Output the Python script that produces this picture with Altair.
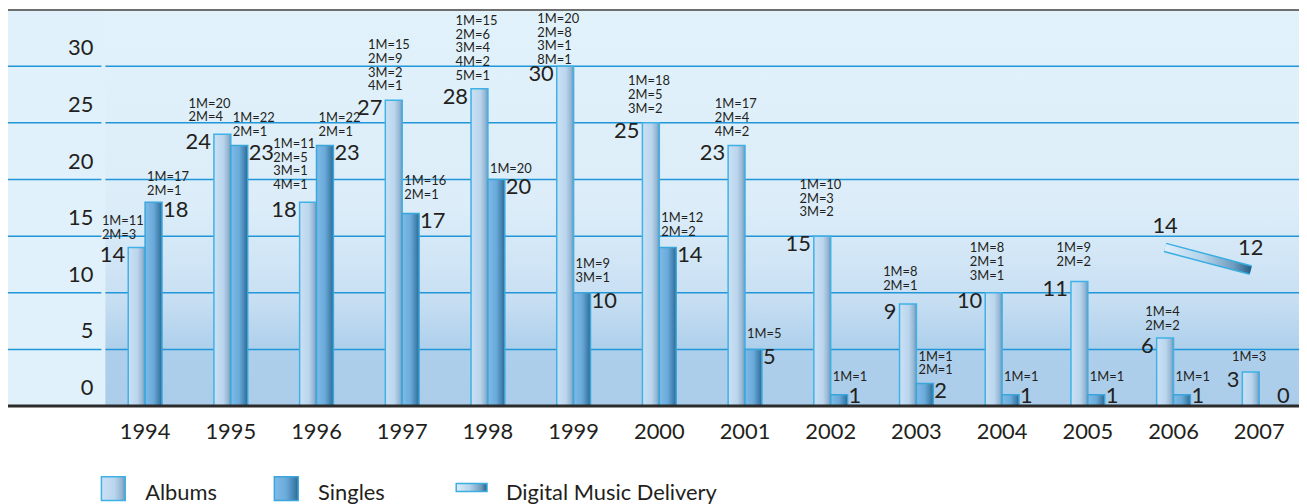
import altair as alt
import pandas as pd

# ---------------- data ----------------
years = [str(y) for y in range(1994, 2008)]
albums = [14, 24, 18, 27, 28, 30, 25, 23, 15, 9, 10, 11, 6, 3]
singles = [18, 23, 23, 17, 20, 10, 14, 5, 1, 2, 1, 1, 1, 0]
album_notes = [
    "1M=11\n2M=3",
    "1M=20\n2M=4",
    "1M=11\n2M=5\n3M=1\n4M=1",
    "1M=15\n2M=9\n3M=2\n4M=1",
    "1M=15\n2M=6\n3M=4\n4M=2\n5M=1",
    "1M=20\n2M=8\n3M=1\n8M=1",
    "1M=18\n2M=5\n3M=2",
    "1M=17\n2M=4\n4M=2",
    "1M=10\n2M=3\n3M=2",
    "1M=8\n2M=1",
    "1M=8\n2M=1\n3M=1",
    "1M=9\n2M=2",
    "1M=4\n2M=2",
    "1M=3",
]
single_notes = [
    "1M=17\n2M=1",
    "1M=22\n2M=1",
    "1M=22\n2M=1",
    "1M=16\n2M=1",
    "1M=20",
    "1M=9\n3M=1",
    "1M=12\n2M=2",
    "1M=5",
    "1M=1",
    "1M=1\n2M=1",
    "1M=1",
    "1M=1",
    "1M=1",
    "",
]
digital_years = ["2006", "2007"]
digital_values = [14, 12]
y_ticks = [0, 5, 10, 15, 20, 25, 30]
legend_labels = ["Albums", "Singles", "Digital Music Delivery"]

# label nudges (pixels) for the annotations
album_note_dx = [-35, -34, -35, -26, -24, -28, -23, -22, -23, -25, -24, -23, -20, -19]
album_note_dy = [-6, -10, -10, -7, -6, 1, -7, -7, -17, -11, -10, -13, -5, -8]
single_note_dy = [-4, -7, -7, -12, -4, -8, -9, -8, -11, -6, -11, -11, -11, 0]

# ---------------- styling ----------------
W, H = 1299, 399
FONT = "Lato"
TXT = "#231f20"
GRID = "#2196d8"
LH = 13.8

album_fill = alt.Gradient(
    gradient="linear",
    stops=[alt.GradientStop(color="#cbe1f4", offset=0),
           alt.GradientStop(color="#bad5ed", offset=0.55),
           alt.GradientStop(color="#93b5d2", offset=0.85),
           alt.GradientStop(color="#6f93b3", offset=1)],
    x1=0, x2=1, y1=0, y2=0)
single_fill = alt.Gradient(
    gradient="linear",
    stops=[alt.GradientStop(color="#7ebbe7", offset=0),
           alt.GradientStop(color="#6aaada", offset=0.5),
           alt.GradientStop(color="#407fab", offset=0.85),
           alt.GradientStop(color="#2a6690", offset=1)],
    x1=0, x2=1, y1=0, y2=0)
digital_fill = alt.Gradient(
    gradient="linear",
    stops=[alt.GradientStop(color="#ddeefa", offset=0),
           alt.GradientStop(color="#b4d2ea", offset=0.45),
           alt.GradientStop(color="#6f9cbf", offset=0.8),
           alt.GradientStop(color="#255f87", offset=1)],
    x1=0, x2=1, y1=0, y2=0)
bg_fill = alt.Gradient(
    gradient="linear",
    stops=[alt.GradientStop(color="#e1f2fb", offset=0),
           alt.GradientStop(color="#dcedf9", offset=0.5),
           alt.GradientStop(color="#c9e0f3", offset=0.72),
           alt.GradientStop(color="#adcfeb", offset=0.86),
           alt.GradientStop(color="#abcdea", offset=1)],
    x1=0, x2=0, y1=0, y2=1)

n = len(years)
bars_df = pd.DataFrame({
    "year": years * 2,
    "series": ["Albums"] * n + ["Singles"] * n,
    "value": albums + singles,
    "note": album_notes + single_notes,
    "ndx": album_note_dx + [-6.5] * n,
    "ndy": album_note_dy + single_note_dy,
})
dig_df = pd.DataFrame({"year": digital_years, "value": digital_values})
tick_df = pd.DataFrame({"tick": y_ticks})
one = pd.DataFrame({"a": [0]})

yscale = alt.Scale(domain=[0, 35], nice=False, zero=True)
xscale = alt.Scale(domain=years, paddingInner=0.606, paddingOuter=0.835,
                   align=0.84, round=False)
oscale = alt.Scale(domain=["Albums", "Singles"], paddingInner=0, paddingOuter=0,
                   round=False)

XAXIS = alt.Axis(domain=False, ticks=False, grid=False, labelAngle=0,
                 labelFont=FONT, labelFontSize=22, labelColor=TXT,
                 labelPadding=16)
X = alt.X("year:N", scale=xscale, title=None, axis=XAXIS)
XO = alt.XOffset("series:N", scale=oscale)
XD = alt.X("year:N", scale=xscale, title=None, axis=XAXIS, bandPosition=0.25)


def Y(field):
    return alt.Y(field, scale=yscale, axis=None, title=None)


# background
bg = alt.Chart(one).mark_rect(fill=bg_fill).encode(
    x=alt.value(98), x2=alt.value(W), y=alt.value(0), y2=alt.value(H))

grid_left = alt.Chart(tick_df).mark_rule(color=GRID, strokeWidth=1.5).encode(
    y=Y("tick:Q"), x=alt.value(0), x2=alt.value(94))
grid_right = alt.Chart(tick_df).mark_rule(color=GRID, strokeWidth=1.5).encode(
    y=Y("tick:Q"), x=alt.value(98), x2=alt.value(W))
y_labels = alt.Chart(tick_df).mark_text(
    font=FONT, fontSize=22, color=TXT, align="right", baseline="middle", dy=-18).encode(
    y=Y("tick:Q"), x=alt.value(86), text="tick:Q")

top_line = alt.Chart(one).mark_rule(color="#6e6e6e", strokeWidth=2).encode(
    y=alt.value(0.5), x=alt.value(0), x2=alt.value(W))

album_bars = alt.Chart(bars_df).transform_filter(
    alt.datum.series == "Albums").mark_bar(
    fill=album_fill, stroke="#3fb1e6", strokeWidth=1.5).encode(
    x=X, xOffset=XO, y=Y("value:Q"))
single_bars = alt.Chart(bars_df).transform_filter(
    alt.datum.series == "Singles").mark_bar(
    fill=single_fill, stroke="#3aa6dc", strokeWidth=1.5).encode(
    x=X, xOffset=XO, y=Y("value:Q"))

baseline = alt.Chart(one).mark_rule(color="#2b2b2b", strokeWidth=3).encode(
    y=alt.YDatum(0, scale=yscale, axis=None), x=alt.value(0), x2=alt.value(W))

# value labels
album_vals = alt.Chart(bars_df).transform_filter(
    alt.datum.series == "Albums").transform_calculate(
    ly="max(datum.value, 1.6)").mark_text(
    font=FONT, fontSize=22, color=TXT, align="right", baseline="top",
    dx=-11.5, dy=-2).encode(
    x=X, xOffset=XO, y=Y("ly:Q"), text="value:Q")
single_vals = alt.Chart(bars_df).transform_filter(
    alt.datum.series == "Singles").transform_calculate(
    ly="max(datum.value, 1.6)").mark_text(
    font=FONT, fontSize=22, color=TXT, align="left", baseline="top",
    dx=9.5, dy=-2).encode(
    x=X, xOffset=XO, y=Y("ly:Q"), text="value:Q")

# annotations (multi-line, stacked upward from just above the bar)
notes = alt.Chart(bars_df).transform_calculate(
    nl="length(split(datum.note, '\\n'))").mark_text(
    font=FONT, fontSize=13, color=TXT, align="left", baseline="bottom",
    lineBreak="\n", lineHeight=LH,
    dx=alt.ExprRef("datum.ndx"),
    dy=alt.ExprRef(f"datum.ndy - (datum.nl - 1) * {LH}")).encode(
    x=X, xOffset=XO, y=Y("value:Q"), text="note:N")

# digital music delivery
dig_outer = alt.Chart(dig_df).mark_line(
    color="#3aaee0", strokeWidth=10, strokeCap="butt").encode(
    x=XD, y=Y("value:Q"))
dig_inner = alt.Chart(dig_df).mark_line(
    stroke=digital_fill, strokeWidth=7, strokeCap="butt").encode(
    x=XD, y=Y("value:Q"))
dig_text = alt.Chart(dig_df).mark_text(
    font=FONT, fontSize=22, color=TXT, align="center", baseline="bottom",
    dy=-10).encode(
    x=XD, y=Y("value:Q"), text="value:Q")

# legend
leg_alb = alt.Chart(one).mark_rect(fill=album_fill, stroke="#3fb1e6", strokeWidth=1.5).encode(
    x=alt.value(94), x2=alt.value(118), y=alt.value(470), y2=alt.value(494))
leg_sin = alt.Chart(one).mark_rect(fill=single_fill, stroke="#3aa6dc", strokeWidth=1.5).encode(
    x=alt.value(268), x2=alt.value(292), y=alt.value(470), y2=alt.value(494))
leg_dig = alt.Chart(one).mark_rect(fill=digital_fill, stroke="#3aaee0", strokeWidth=1.5).encode(
    x=alt.value(451), x2=alt.value(482), y=alt.value(477), y2=alt.value(485))
leg_df = pd.DataFrame({"label": legend_labels})
leg_x = [138, 312, 501]
leg_texts = [
    alt.Chart(leg_df).transform_filter(alt.datum.label == lab).mark_text(
        font=FONT, fontSize=22, color=TXT, align="left", baseline="alphabetic").encode(
        x=alt.value(lx), y=alt.value(493), text="label:N")
    for lab, lx in zip(legend_labels, leg_x)
]

chart = alt.layer(
    bg, grid_left, grid_right, top_line, y_labels,
    album_bars, single_bars, baseline,
    album_vals, single_vals, notes,
    dig_outer, dig_inner, dig_text,
    leg_alb, leg_sin, leg_dig, *leg_texts,
).properties(
    width=W, height=H, autosize="none",
    padding={"left": 0, "top": 0, "right": 0, "bottom": 100},
).configure_view(fill="#e1f1fb", stroke=None)

chart.save("out.html", embed_options={"renderer": "svg", "actions": False})
